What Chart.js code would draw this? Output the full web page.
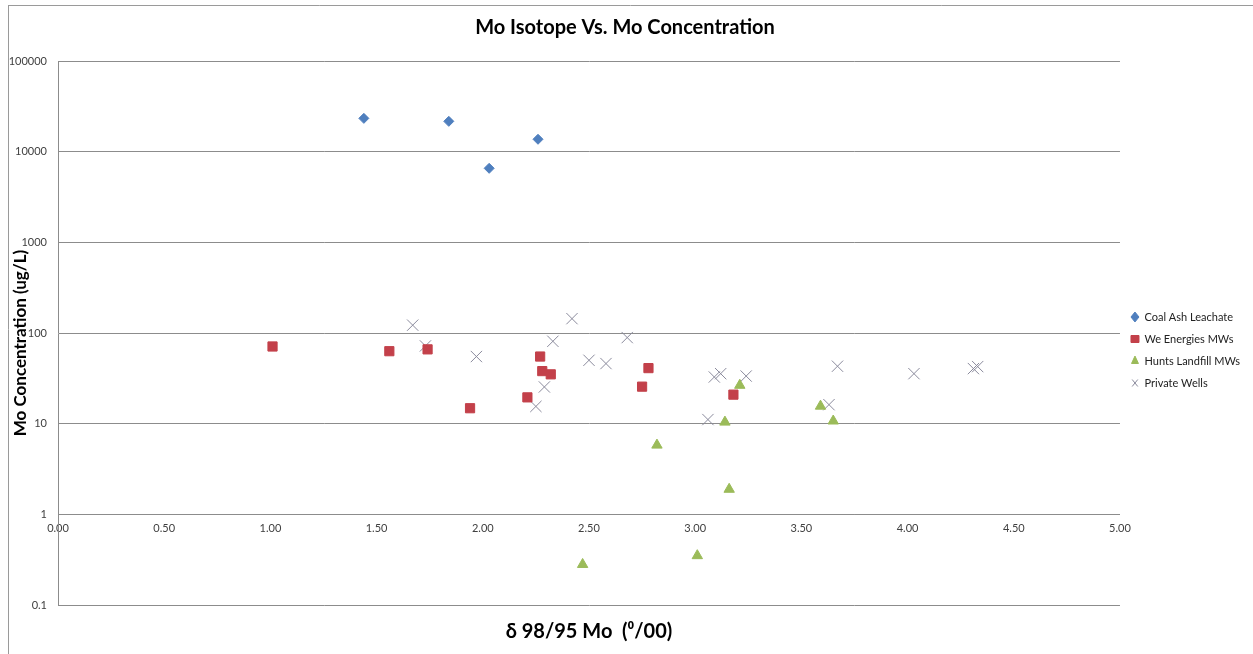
<!DOCTYPE html>
<html>
<head>
<meta charset="utf-8">
<script src="https://cdn.jsdelivr.net/npm/chart.js@4"></script>
<style>
  html, body { margin: 0; padding: 0; background: #fff; }
  #wrap { width: 1253px; height: 654px; }
</style>
</head>
<body>
<div id="wrap"><canvas id="chart" width="1253" height="654"></canvas></div>
<script>
// values (x = delta 98/95 Mo, y = Mo ug/L)
const coalAshX = [1.44, 1.84, 2.03, 2.26];
const coalAshY = [23300, 21600, 6550, 13700];

const weEnergiesX = [1.01, 1.56, 1.74, 1.94, 2.21, 2.27, 2.28, 2.32, 2.75, 2.78, 3.18];
const weEnergiesY = [71, 63, 66, 14.8, 19.5, 55, 38, 35, 25.6, 41, 20.9];

const huntsX = [2.47, 2.82, 3.01, 3.14, 3.16, 3.21, 3.59, 3.65];
const huntsY = [0.28, 5.8, 0.35, 10.4, 1.89, 26.5, 15.6, 10.7];

const wellsX = [1.67, 1.73, 1.97, 2.25, 2.29, 2.33, 2.42, 2.50, 2.58, 2.68, 3.06, 3.09, 3.12, 3.24, 3.63, 3.67, 4.03, 4.31, 4.33];
const wellsY = [122, 72, 55, 15.5, 25.4, 81, 144, 50, 46, 89, 11.1, 32.7, 35.6, 33.5, 16.2, 43, 35.6, 40.5, 42.6];

const seriesNames = ['Coal Ash Leachate', 'We Energies MWs', 'Hunts Landfill MWs', 'Private Wells'];
const yTicks = [0.1, 1, 10, 100, 1000, 10000, 100000];

const chartTitle = 'Mo Isotope Vs. Mo Concentration';
const xTitle = 'δ 98/95 Mo  (⁰/00)';
const yTitle = 'Mo Concentration (ug/L)';

const FONT = 'Lato, "Open Sans", sans-serif';
const GRID = '#8c8c8c';

const pts = (xs, ys) => xs.map((x, i) => ({ x: x, y: ys[i] }));

// outer frame of the figure and the two axis titles
const frameAndTitles = {
  id: 'frameAndTitles',
  beforeDraw(chart) {
    const ctx = chart.ctx;
    ctx.save();
    ctx.strokeStyle = '#9a9a9a';
    ctx.lineWidth = 1;
    ctx.beginPath();
    ctx.moveTo(8, 5.5); ctx.lineTo(chart.width, 5.5);
    ctx.moveTo(8.5, 5); ctx.lineTo(8.5, chart.height);
    ctx.stroke();
    ctx.restore();
  },
  afterDraw(chart) {
    const ctx = chart.ctx;
    const area = chart.chartArea;
    ctx.save();
    ctx.fillStyle = '#000';
    ctx.textAlign = 'center';
    ctx.textBaseline = 'middle';
    ctx.font = 'bold 20px ' + FONT;
    ctx.fillText(xTitle, (area.left + area.right) / 2, 632);
    ctx.translate(21, 343);
    ctx.rotate(-Math.PI / 2);
    ctx.font = 'bold 17px ' + FONT;
    ctx.fillText(yTitle, 0, 0);
    ctx.restore();
  }
};

new Chart(document.getElementById('chart'), {
  type: 'scatter',
  data: {
    datasets: [
      {
        label: seriesNames[0],
        data: pts(coalAshX, coalAshY),
        pointStyle: 'rectRot',
        pointRadius: 5,
        backgroundColor: '#4f7fbe',
        borderColor: '#4f7fbe',
        borderWidth: 1
      },
      {
        label: seriesNames[1],
        data: pts(weEnergiesX, weEnergiesY),
        pointStyle: 'rect',
        pointRadius: 6.5,
        backgroundColor: '#c3404a',
        borderColor: '#c3404a',
        borderWidth: 1
      },
      {
        label: seriesNames[2],
        data: pts(huntsX, huntsY),
        pointStyle: 'triangle',
        pointRadius: 6,
        backgroundColor: '#9bbb59',
        borderColor: '#9bbb59',
        borderWidth: 1
      },
      {
        label: seriesNames[3],
        data: pts(wellsX, wellsY),
        pointStyle: 'crossRot',
        pointRadius: 8,
        backgroundColor: '#8a8a9c',
        borderColor: '#8a8a9c',
        borderWidth: 1
      }
    ]
  },
  options: {
    responsive: false,
    animation: false,
    layout: { padding: { left: 0, right: 3, top: 0, bottom: 49 } },
    plugins: {
      title: {
        display: true,
        text: chartTitle,
        color: '#000',
        font: { family: FONT, size: 20, weight: 'bold', lineHeight: 1.2 },
        padding: { top: 16, bottom: 21 }
      },
      legend: {
        position: 'right',
        title: { display: true, text: '', font: { size: 10, lineHeight: 1.2 }, padding: { top: 83, bottom: 0 } },
        labels: {
          usePointStyle: true,
          pointStyleWidth: 8,
          boxHeight: 7,
          padding: 11,
          color: '#222',
          font: { family: FONT, size: 11, lineHeight: 1.2 }
        }
      },
      tooltip: { enabled: false }
    },
    scales: {
      x: {
        type: 'linear',
        min: 0,
        max: 5,
        position: { y: 1 },
        grid: { display: false, drawTicks: false },
        border: { display: true, color: GRID },
        ticks: {
          stepSize: 0.5,
          padding: 8,
          color: '#404040',
          font: { family: FONT, size: 11 },
          callback: v => Number(v).toFixed(2)
        }
      },
      y: {
        type: 'logarithmic',
        min: yTicks[0],
        max: yTicks[yTicks.length - 1],
        afterFit(scale) { scale.width = 58; },
        afterBuildTicks(scale) { scale.ticks = yTicks.map(v => ({ value: v })); },
        grid: { color: GRID, drawTicks: false },
        border: { display: true, color: GRID },
        ticks: {
          padding: 11,
          color: '#404040',
          font: { family: FONT, size: 11 },
          callback: v => String(v)
        }
      }
    }
  },
  plugins: [frameAndTitles]
});
</script>
</body>
</html>
